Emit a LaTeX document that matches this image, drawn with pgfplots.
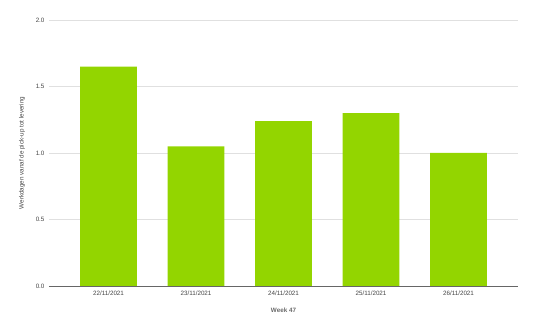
\documentclass[border=0pt]{standalone}
\usepackage{pgfplots}
\pgfplotsset{compat=1.18}
\usepackage{fontspec}
\setmainfont{Liberation Sans}
\definecolor{barg}{RGB}{147,213,0}
\definecolor{gridc}{RGB}{224,224,224}
\definecolor{txt}{RGB}{68,68,68}
\begin{document}
\begin{tikzpicture}
\begin{axis}[
  scale only axis, width=469bp, height=266bp,
  xmin=-0.68, xmax=4.68, ymin=0, ymax=2,
  ytick={0,0.5,1,1.5,2},
  yticklabel style={/pgf/number format/fixed,/pgf/number format/fixed zerofill,/pgf/number format/precision=1},
  /pgf/number format/assume math mode=true,
  xtick={0,1,2,3,4},
  xticklabels={22/11/2021,23/11/2021,24/11/2021,25/11/2021,26/11/2021},
  major tick length=0pt,
  axis line style={draw=none},
  ymajorgrids, grid style={gridc, line width=0.6pt},
  tick label style={font=\fontsize{6.3}{7}\selectfont, text=txt},
  xticklabel style={yshift=-1pt},
  yticklabel style={xshift=-1pt},
  xlabel={Week 47}, ylabel={Werkdagen vanaf de pick-up tot levering},
  label style={font=\fontsize{6.3}{7}\selectfont, text=txt},
  xlabel style={yshift=-6pt, font=\fontsize{6.3}{7}\selectfont\bfseries, text=txt!80},
  ylabel style={yshift=4pt},
  clip=false,
]
\addplot[ybar, bar width=0.65, fill=barg, draw=none] coordinates {(0,1.65) (1,1.05) (2,1.24) (3,1.30) (4,1.00)};
\draw[color=gray!80!black, line width=0.6pt] (rel axis cs:0,0) -- (rel axis cs:1,0);
\end{axis}
\pgfresetboundingbox
\path (-49bp,-44bp) rectangle (485bp,286bp);
\end{tikzpicture}
\end{document}
